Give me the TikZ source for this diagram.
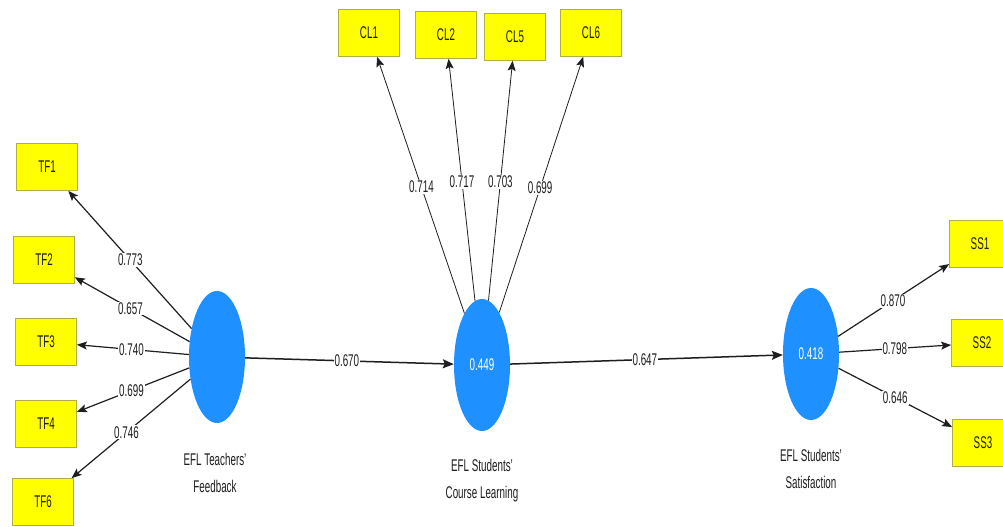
\documentclass[tikz,border=0pt]{standalone}
\usepackage{fontspec}
\setmainfont{Liberation Sans}[FakeStretch=0.58]
\usetikzlibrary{calc,arrows.meta,shapes.geometric}
\definecolor{lvblue}{RGB}{30,144,255}
\definecolor{mvyellow}{RGB}{255,255,0}
\definecolor{mvedge}{RGB}{175,175,70}
\definecolor{ink}{RGB}{30,30,30}

\begin{document}
\begin{tikzpicture}[x=1bp,y=-1bp,
  every node/.style={font=\fontsize{17}{27}\selectfont, text=ink},
  latent/.style={ellipse, fill=lvblue, minimum width=56bp, minimum height=132bp,
    inner sep=0pt, text=white},
  indicator/.style={rectangle, fill=mvyellow, draw=mvedge, line width=0.7bp,
    minimum width=61bp, minimum height=47bp, inner sep=0pt},
  weight/.style={fill=white, inner sep=1bp},
  caption/.style={align=center},
  loading/.style={-{Stealth[length=10bp,width=8bp,inset=2bp]}, line width=1.2bp, draw=ink},
  thinload/.style={loading, line width=0.8bp},
  structural/.style={-{Stealth[length=11bp,width=9bp,inset=2bp]}, line width=1.5bp, draw=ink}
]
\useasboundingbox (0,0) rectangle (1003,527);
\fill[white] (0,0) rectangle (1003,527);
\clip (0,0) rectangle (1003,527);

% latent constructs
\node[latent] (TF) at (217,357) {};
\node[latent] (CL) at (482,365) {0.449};
\node[latent] (SS) at (811,354) {0.418};

\node[caption] (TFcap) at (215,473) {EFL Teachers'\\Feedback};
\node[caption] (CLcap) at (482,481) {EFL Students'\\Course Learning};
\node[caption] (SScap) at (811,469) {EFL Students'\\Satisfaction};

% indicators
\node[indicator] (TF1) at (47,167) {TF1};
\node[indicator] (TF2) at (44,260) {TF2};
\node[indicator] (TF3) at (46,342) {TF3};
\node[indicator] (TF4) at (46,424) {TF4};
\node[indicator] (TF6) at (43,502) {TF6};

\node[indicator] (CL1) at (369,33) {CL1};
\node[indicator] (CL2) at (446,35) {CL2};
\node[indicator] (CL5) at (515,37) {CL5};
\node[indicator] (CL6) at (591,33) {CL6};

\node[indicator] (SS1) at (980,244) {SS1};
\node[indicator] (SS2) at (982,343) {SS2};
\node[indicator] (SS3) at (983,443) {SS3};

% outer loadings
\draw[loading] (TF) -- (TF1);
\draw[loading] (TF) -- (TF2);
\draw[loading] (TF) -- (TF3);
\draw[loading] (TF) -- (TF4);
\draw[loading] (TF) -- (TF6);
\draw[thinload] (CL) -- (CL1);
\draw[thinload] (CL) -- (CL2);
\draw[thinload] (CL) -- (CL5);
\draw[thinload] (CL) -- (CL6);
\draw[loading] (SS) -- (SS1);
\draw[loading] (SS) -- (SS2);
\draw[loading] (SS) -- (SS3);

% structural paths
\draw[structural] (TF) -- (CL);
\draw[structural] (CL) -- (SS);

% coefficients
\node[weight] (wTF1) at ($(TF)!0.51!(TF1)$) {0.773};
\node[weight] (wTF2) at ($(TF)!0.50!(TF2)$) {0.657};
\node[weight] (wTF3) at ($(TF)!0.50!(TF3)$) {0.740};
\node[weight] (wTF4) at ($(TF)!0.50!(TF4)$) {0.699};
\node[weight] (wTF6) at ($(TF)!0.52!(TF6)$) {0.746};

\node[weight] (wCL1) at ($(CL)!0.536!(CL1)$) {0.714};
\node[weight] (wCL2) at ($(CL)!0.555!(CL2)$) {0.717};
\node[weight] (wCL5) at ($(CL)!0.558!(CL5)$) {0.703};
\node[weight] (wCL6) at ($(CL)!0.533!(CL6)$) {0.699};

\node[weight] (wSS1) at ($(SS)!0.485!(SS1)$) {0.870};
\node[weight] (wSS2) at ($(SS)!0.49!(SS2)$) {0.798};
\node[weight] (wSS3) at ($(SS)!0.49!(SS3)$) {0.646};

\node[weight] (wTFCL) at ($(TF)!0.49!(CL)$) {0.670};
\node[weight] (wCLSS) at ($(CL)!0.495!(SS)$) {0.647};
\end{tikzpicture}
\end{document}
